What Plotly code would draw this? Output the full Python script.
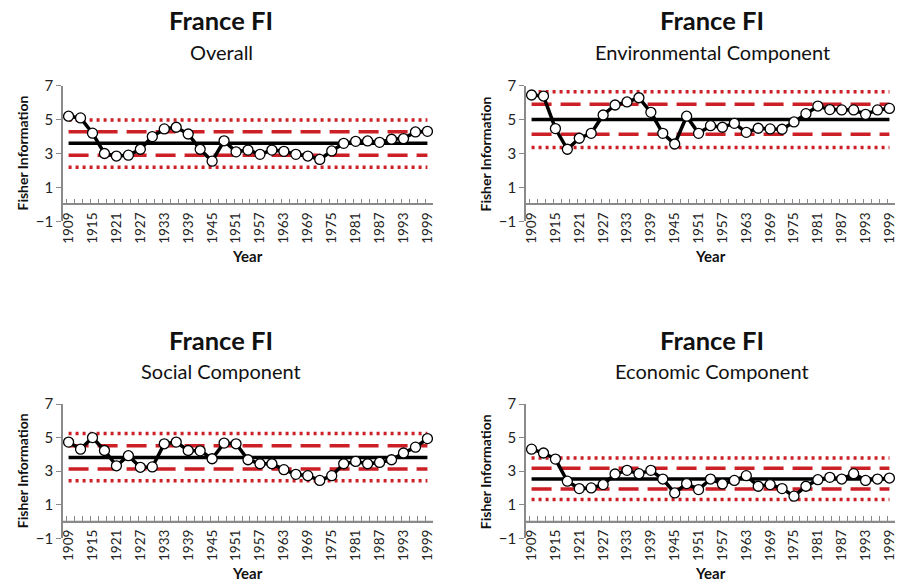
import plotly.graph_objects as go

years = [1909, 1912, 1915, 1918, 1921, 1924, 1927, 1930, 1933, 1936, 1939,
         1942, 1945, 1948, 1951, 1954, 1957, 1960, 1963, 1966, 1969, 1972,
         1975, 1978, 1981, 1984, 1987, 1990, 1993, 1996, 1999]
tick_years = [1909, 1915, 1921, 1927, 1933, 1939, 1945, 1951, 1957, 1963,
              1969, 1975, 1981, 1987, 1993, 1999]

overall = [5.2, 5.1, 4.2, 3.0, 2.85, 2.9, 3.25, 4.0, 4.45, 4.55, 4.15, 3.25,
           2.55, 3.75, 3.1, 3.2, 2.95, 3.2, 3.13, 2.95, 2.85, 2.65, 3.15, 3.6,
           3.72, 3.74, 3.66, 3.84, 3.88, 4.27, 4.31]
environmental = [6.45, 6.39, 4.47, 3.25, 3.9, 4.19, 5.27, 5.86, 6.04, 6.29,
                 5.43, 4.19, 3.56, 5.2, 4.19, 4.64, 4.55, 4.78, 4.25, 4.49,
                 4.45, 4.43, 4.86, 5.35, 5.8, 5.59, 5.57, 5.57, 5.31, 5.57, 5.66]
social = [4.73, 4.31, 5.0, 4.23, 3.32, 3.92, 3.23, 3.25, 4.63, 4.73, 4.23,
          4.21, 3.74, 4.67, 4.63, 3.68, 3.44, 3.44, 3.09, 2.81, 2.73, 2.45,
          2.73, 3.44, 3.58, 3.44, 3.52, 3.68, 4.08, 4.43, 4.94]
economic = [4.31, 4.08, 3.72, 2.40, 1.96, 2.0, 2.2, 2.83, 3.05, 2.85, 3.05,
            2.53, 1.70, 2.26, 1.9, 2.53, 2.24, 2.45, 2.73, 2.1, 2.2, 1.96,
            1.51, 2.1, 2.49, 2.63, 2.53, 2.85, 2.45, 2.53, 2.59]

# mean, mean +/- 1 sd (dashed), mean +/- 2 sd (dotted)
means = [3.6, 5.0, 3.82, 2.53]
sd1_upper = [4.29, 5.9, 4.51, 3.17]
sd1_lower = [2.9, 4.13, 3.13, 1.94]
sd2_upper = [4.98, 6.65, 5.24, 3.78]
sd2_lower = [2.19, 3.35, 2.43, 1.31]

main_title = "France FI"
subtitles = ["Overall", "Environmental Component", "Social Component", "Economic Component"]
series = [overall, environmental, social, economic]

FONT = "Lato"
RED = "#CC1F26"
AXIS = "#8a8a8a"
W, H = 898, 583

# panel geometry in pixels: (x0, x1, ytop, ybottom), title center x, title y
panels = [
    (63, 433, 85.7, 221.3, 221, 20, 52),
    (526, 895, 85.7, 221.3, 712, 20, 52),
    (63, 433, 404, 538.3, 221, 340, 371),
    (526, 895, 404, 538.3, 712, 340, 371),
]

fig = go.Figure()
layout = dict(width=W, height=H, autosize=False,
              margin=dict(l=0, r=0, t=0, b=0, pad=0, autoexpand=False),
              plot_bgcolor="white", paper_bgcolor="white",
              showlegend=False, font=dict(family=FONT, color="#222"))
annotations = []
shapes = []

for i, (x0, x1, yt, yb, tcx, ty1, ty2) in enumerate(panels):
    n = i + 1
    xa = "x" if n == 1 else f"x{n}"
    ya = "y" if n == 1 else f"y{n}"
    xd = [x0 / W, x1 / W]
    yd = [1 - yb / H, 1 - yt / H]
    ymin, ymax = -1, 7
    xpos = yd[0] + (0 - ymin) / (ymax - ymin) * (yd[1] - yd[0])

    # horizontal axis line at y = 0
    shapes.append(dict(type="line", xref=f"{xa} domain", yref=ya,
                       x0=0, x1=1, y0=0, y1=0, layer="below",
                       line=dict(color=AXIS, width=1.5)))

    xr = [years[0], years[-1]]
    for val, dash, wd, col in [
        (sd2_upper[i], "3px,4px", 3.5, RED),
        (sd2_lower[i], "3px,4px", 3.5, RED),
        (sd1_upper[i], "20px,9px", 3.5, RED),
        (sd1_lower[i], "20px,9px", 3.5, RED),
        (means[i], "solid", 3.5, "black"),
    ]:
        fig.add_trace(go.Scatter(x=xr, y=[val, val], mode="lines",
                                 line=dict(color=col, width=wd, dash=dash),
                                 xaxis=xa, yaxis=ya, hoverinfo="skip"))
    fig.add_trace(go.Scatter(x=years, y=series[i], mode="lines+markers",
                             line=dict(color="black", width=3.5),
                             marker=dict(size=10, color="white",
                                         line=dict(color="black", width=1.3)),
                             xaxis=xa, yaxis=ya))

    layout[f"xaxis{'' if n == 1 else n}"] = dict(
        domain=xd, anchor="free", position=xpos, automargin=False,
        range=[1907.6, 2000.4], tickvals=tick_years,
        ticktext=[str(t) for t in tick_years], tickangle=-90,
        ticks="", showline=True, linecolor=AXIS, linewidth=1.5,
        showgrid=False, zeroline=False, ticklabelstandoff=2,
        tickfont=dict(family=FONT, size=13.5, color="#222"),
        minor=dict(tick0=1908.5, dtick=2, ticks="inside", ticklen=5,
                   tickcolor=AXIS, tickwidth=1.2, showgrid=False),
    )
    layout[f"yaxis{'' if n == 1 else n}"] = dict(
        domain=yd, anchor=xa, range=[ymin, ymax], tickvals=[-1, 1, 3, 5, 7],
        automargin=False,
        ticks="outside", ticklen=5, tickcolor=AXIS, showline=True,
        linecolor=AXIS, linewidth=1.5, showgrid=False, zeroline=False,
        tickfont=dict(family=FONT, size=15, color="#222"),
    )

    annotations.append(dict(text=f"<b>{main_title}</b>", x=tcx / W, y=1 - ty1 / H,
                            xref="paper", yref="paper", showarrow=False,
                            font=dict(family=FONT, size=25.5, color="#111"),
                            xanchor="center", yanchor="middle"))
    annotations.append(dict(text=subtitles[i], x=tcx / W, y=1 - ty2 / H,
                            xref="paper", yref="paper", showarrow=False,
                            font=dict(family=FONT, size=20, color="#111"),
                            xanchor="center", yanchor="middle"))
    annotations.append(dict(text="<b>Fisher Information</b>", x=(x0 - 41) / W,
                            y=(yd[0] + yd[1]) / 2, xref="paper", yref="paper",
                            showarrow=False, textangle=-90,
                            font=dict(family=FONT, size=14, color="#111"),
                            xanchor="center", yanchor="middle"))
    annotations.append(dict(text="<b>Year</b>", x=(x0 + x1) / 2 / W,
                            y=1 - (yb + 35) / H, xref="paper", yref="paper",
                            showarrow=False,
                            font=dict(family=FONT, size=15, color="#111"),
                            xanchor="center", yanchor="middle"))

layout["annotations"] = annotations
layout["shapes"] = shapes
fig.update_layout(**layout)
fig.write_html("out.html", config={"displayModeBar": False},
               post_script="document.body.style.margin='0px';")
